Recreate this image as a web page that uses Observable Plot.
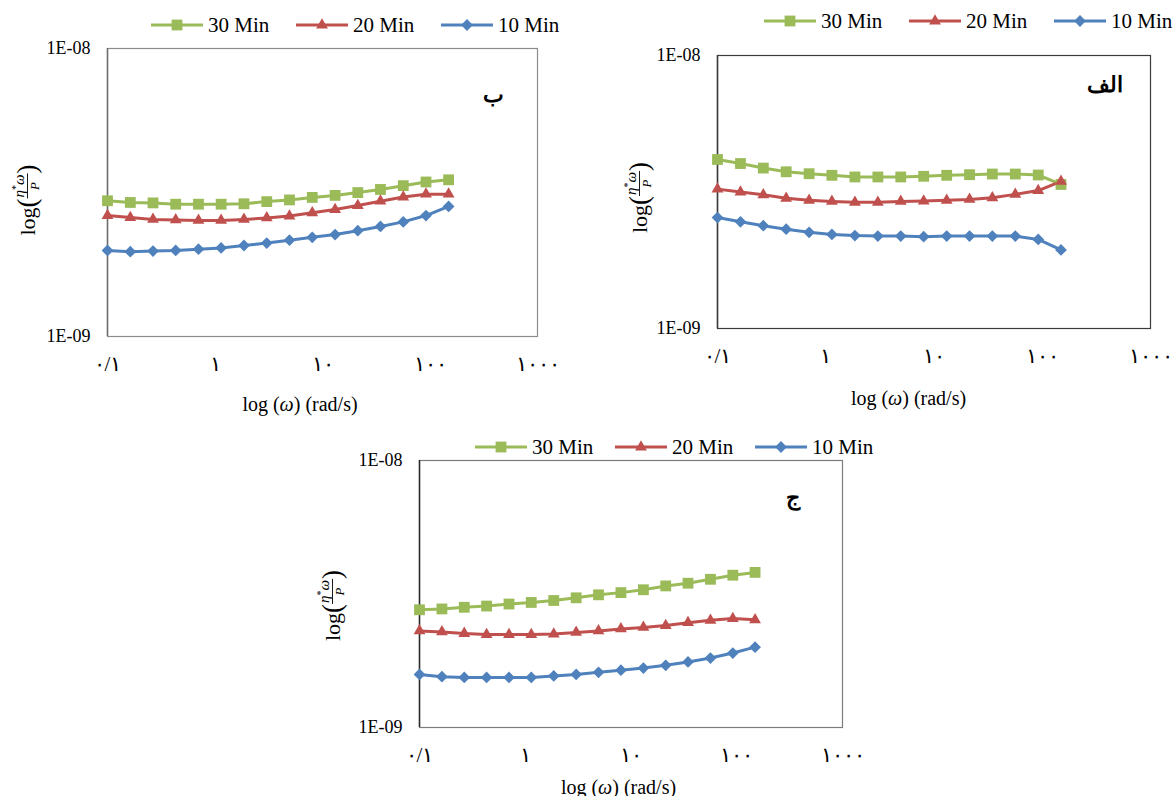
<!DOCTYPE html>
<html><head><meta charset="utf-8">
<script src="https://cdn.jsdelivr.net/npm/d3@7"></script>
<script src="https://cdn.jsdelivr.net/npm/@observablehq/plot@0.6"></script>
<style>
html,body{margin:0;padding:0;background:#fff;}
body{width:1174px;height:796px;position:relative;overflow:hidden;font-family:"Liberation Serif","Times New Roman",serif;color:#000;}
.panel{position:absolute;}
.panel svg{overflow:visible;display:block;max-width:none !important;}
.legend{position:absolute;display:flex;align-items:center;font-size:21px;white-space:nowrap;height:24px;}
.legend .item{display:flex;align-items:center;}
.legend svg{display:block;margin-right:5px;}
</style></head><body>
<script>
// ---------- data ----------
const freq = [0.1, 0.163, 0.265, 0.431, 0.702, 1.14, 1.86, 3.03, 4.93, 8.03, 13.1, 21.3, 34.6, 56.4, 91.8, 149];
const series = ["30 Min", "20 Min", "10 Min"];
const xTicks = [0.1, 1, 10, 100, 1000];
const xTickLabels = ["۰/۱", "۱", "۱۰", "۱۰۰", "۱۰۰۰"];
const yTicks = [1e-9, 1e-8];
const yTickLabels = ["1E-09", "1E-08"];
const panelLetters = ["ب", "الف", "ج"];

// panel ب
const b30 = [2.96e-9, 2.92e-9, 2.91e-9, 2.88e-9, 2.88e-9, 2.88e-9, 2.89e-9, 2.94e-9, 2.98e-9, 3.04e-9, 3.09e-9, 3.16e-9, 3.24e-9, 3.34e-9, 3.44e-9, 3.50e-9];
const b20 = [2.63e-9, 2.59e-9, 2.55e-9, 2.54e-9, 2.53e-9, 2.53e-9, 2.55e-9, 2.58e-9, 2.62e-9, 2.69e-9, 2.76e-9, 2.85e-9, 2.95e-9, 3.05e-9, 3.12e-9, 3.12e-9];
const b10 = [1.99e-9, 1.97e-9, 1.98e-9, 1.99e-9, 2.01e-9, 2.03e-9, 2.07e-9, 2.11e-9, 2.16e-9, 2.21e-9, 2.26e-9, 2.33e-9, 2.41e-9, 2.50e-9, 2.63e-9, 2.83e-9];
// panel الف
const a30 = [4.16e-9, 4.02e-9, 3.87e-9, 3.75e-9, 3.69e-9, 3.64e-9, 3.59e-9, 3.59e-9, 3.59e-9, 3.61e-9, 3.64e-9, 3.66e-9, 3.68e-9, 3.68e-9, 3.65e-9, 3.37e-9];
const a20 = [3.24e-9, 3.16e-9, 3.09e-9, 3.00e-9, 2.95e-9, 2.92e-9, 2.90e-9, 2.90e-9, 2.92e-9, 2.93e-9, 2.95e-9, 2.97e-9, 3.01e-9, 3.10e-9, 3.20e-9, 3.46e-9];
const a10 = [2.55e-9, 2.46e-9, 2.38e-9, 2.31e-9, 2.25e-9, 2.21e-9, 2.19e-9, 2.18e-9, 2.18e-9, 2.17e-9, 2.18e-9, 2.18e-9, 2.18e-9, 2.18e-9, 2.12e-9, 1.94e-9];
// panel ج
const j30 = [2.76e-9, 2.78e-9, 2.82e-9, 2.85e-9, 2.90e-9, 2.94e-9, 2.99e-9, 3.06e-9, 3.14e-9, 3.20e-9, 3.28e-9, 3.39e-9, 3.47e-9, 3.59e-9, 3.72e-9, 3.81e-9];
const j20 = [2.30e-9, 2.28e-9, 2.25e-9, 2.23e-9, 2.23e-9, 2.23e-9, 2.24e-9, 2.27e-9, 2.30e-9, 2.34e-9, 2.37e-9, 2.41e-9, 2.47e-9, 2.52e-9, 2.56e-9, 2.53e-9];
const j10 = [1.58e-9, 1.55e-9, 1.54e-9, 1.54e-9, 1.54e-9, 1.54e-9, 1.56e-9, 1.58e-9, 1.61e-9, 1.64e-9, 1.67e-9, 1.71e-9, 1.76e-9, 1.82e-9, 1.90e-9, 2.00e-9];

// ---------- styles / layout ----------
const colors = ["#9BBB59", "#C0504D", "#4F81BD"];
const symbols = ["square", "triangle", "diamond2"];
const symbolR = [6.1, 4.4, 5.3];
const serif = '"Liberation Serif","Times New Roman",serif';
const M = {l: 100, r: 100, t: 10, b: 90};

const panels = [
  {letter: panelLetters[0], data: [b30, b20, b10], box: [107, 48, 537, 336], frame: "#8c8c8c", left: "#6e6e6e",
   legend: [151, 13], pitch: 145, ylab: [-79, 8], xt: [-22, 75], lp: [-44, 54]},
  {letter: panelLetters[1], data: [a30, a20, a10], box: [717, 55, 1150, 328], frame: "#3a3a3a", left: "#3a3a3a",
   legend: [764, 9], pitch: 145, ylab: [-77, 6], xt: [-25, 77], lp: [-45, 37]},
  {letter: panelLetters[2], data: [j30, j20, j10], box: [419, 460, 842, 727], frame: "#7c7c7c", left: "#2a2a2a",
   legend: [475, 435], pitch: 140, ylab: [-86, 12], xt: [-12, 67], lp: [-49, 45]},
];

function addLegend(p) {
  const div = document.createElement("div");
  div.className = "legend";
  div.style.left = p.legend[0] + "px";
  div.style.top = p.legend[1] + "px";
  const symMap = {square: d3.symbolSquare, triangle: d3.symbolTriangle, diamond2: d3.symbolDiamond2};
  series.forEach((s, i) => {
    const item = document.createElement("div");
    item.className = "item";
    item.style.width = p.pitch + "px";
    const sw = d3.create("svg").attr("width", 52).attr("height", 16);
    sw.append("line").attr("x1", 0).attr("x2", 52).attr("y1", 8).attr("y2", 8)
      .attr("stroke", colors[i]).attr("stroke-width", 3);
    sw.append("path").attr("transform", "translate(26,8)")
      .attr("d", d3.symbol(symMap[symbols[i]], Math.PI * symbolR[i] * symbolR[i])())
      .attr("fill", colors[i]);
    item.appendChild(sw.node());
    const t = document.createElement("span");
    t.textContent = s;
    item.appendChild(t);
    div.appendChild(item);
  });
  document.body.appendChild(div);
}

function addYLabel(svg, cx, cy) {
  const g0 = d3.select(svg).append("g").attr("transform", `translate(${cx},${cy}) rotate(-90)`)
    .attr("font-family", serif).attr("fill", "#000").attr("text-anchor", "start");
  const g = g0.append("g");
  const t1 = g.append("text").attr("font-size", 22).attr("y", 7).text("log");
  const p1 = g.append("text").attr("font-size", 27).attr("y", 8).text("(");
  const num = g.append("text").attr("font-size", 15).attr("y", -4).attr("text-anchor", "middle");
  num.append("tspan").attr("font-style", "italic").text("η");
  num.append("tspan").attr("font-size", 10).attr("dy", -5).text("*");
  num.append("tspan").attr("font-style", "italic").attr("dy", 5).text("ω");
  const den = g.append("text").attr("font-size", 13).attr("font-style", "italic")
    .attr("text-anchor", "middle").attr("y", 11).text("P");
  const ln = g.append("line").attr("stroke", "#000").attr("stroke-width", 0.9);
  const p2 = g.append("text").attr("font-size", 27).attr("y", 8).text(")");
  const w1 = t1.node().getComputedTextLength();
  const wp = p1.node().getComputedTextLength();
  const wf = Math.max(num.node().getComputedTextLength(), den.node().getComputedTextLength()) + 2;
  p1.attr("x", w1);
  num.attr("x", w1 + wp + wf / 2);
  den.attr("x", w1 + wp + wf / 2);
  ln.attr("x1", w1 + wp).attr("x2", w1 + wp + wf).attr("y1", -0.5).attr("y2", -0.5);
  p2.attr("x", w1 + wp + wf);
  const W = w1 + wp + wf + p2.node().getComputedTextLength();
  g.attr("transform", `translate(${-W / 2},0)`);
}

panels.forEach(p => {
  const [x0, y0, x1, y1] = p.box;
  const pw = x1 - x0, ph = y1 - y0;
  const rows = [];
  series.forEach((s, i) => p.data[i].forEach((v, k) => rows.push({series: s, w: freq[k], v})));

  const marks = [
    Plot.frame({stroke: p.frame, strokeWidth: 1.2}),
    Plot.ruleX([0.1], {stroke: p.left, strokeWidth: 1.5}),
    ...series.map((s, i) => Plot.line(rows.filter(d => d.series === s),
      {x: "w", y: "v", stroke: colors[i], strokeWidth: 3})),
    ...series.map((s, i) => Plot.dot(rows.filter(d => d.series === s),
      {x: "w", y: "v", symbol: symbols[i], r: symbolR[i], fill: colors[i]})),
    Plot.axisX({ticks: xTicks, tickFormat: d => xTickLabels[xTicks.indexOf(d)], tickSize: 0,
      tickPadding: 20, fontSize: 21, label: null}),
    Plot.axisY({ticks: yTicks, tickFormat: d => yTickLabels[yTicks.indexOf(d)], tickSize: 0,
      tickPadding: 17, fontSize: 18, label: null}),
  ];

  const W = pw + M.l + M.r, H = ph + M.t + M.b;
  const svg = Plot.plot({
    width: W, height: H,
    marginLeft: M.l, marginRight: M.r, marginTop: M.t, marginBottom: M.b,
    x: {type: "log", domain: [0.1, 1000]},
    y: {type: "log", domain: [1e-9, 1e-8]},
    style: {fontFamily: serif, fontSize: "18px", color: "#000", background: "transparent", overflow: "visible", maxWidth: "none"},
    marks
  });
  const div = document.createElement("div");
  div.className = "panel";
  div.style.left = (x0 - M.l) + "px";
  div.style.top = (y0 - M.t) + "px";
  div.style.width = W + "px";
  div.style.height = H + "px";
  div.appendChild(svg);
  document.body.appendChild(div);

  d3.select(svg).selectAll('g[aria-label="x-axis tick label"]').attr("font-size", 21).attr("letter-spacing", 2);
  d3.select(svg).selectAll('g[aria-label="y-axis tick label"]').attr("font-size", 18);

  addYLabel(svg, M.l + p.ylab[0], M.t + ph / 2 + p.ylab[1]);
  const xt = d3.select(svg).append("text").attr("font-family", serif).attr("font-size", 20)
    .attr("text-anchor", "middle").attr("fill", "#000")
    .attr("x", M.l + pw / 2 + p.xt[0]).attr("y", M.t + ph + p.xt[1]);
  xt.append("tspan").text("log (");
  xt.append("tspan").attr("font-style", "italic").text("ω");
  xt.append("tspan").text(") (rad/s)");
  d3.select(svg).append("text").attr("font-size", 22).attr("font-weight", "bold")
    .attr("text-anchor", "middle").attr("fill", "#000")
    .attr("x", M.l + pw + p.lp[0]).attr("y", M.t + p.lp[1]).text(p.letter);

  addLegend(p);
});
</script>
</body></html>
